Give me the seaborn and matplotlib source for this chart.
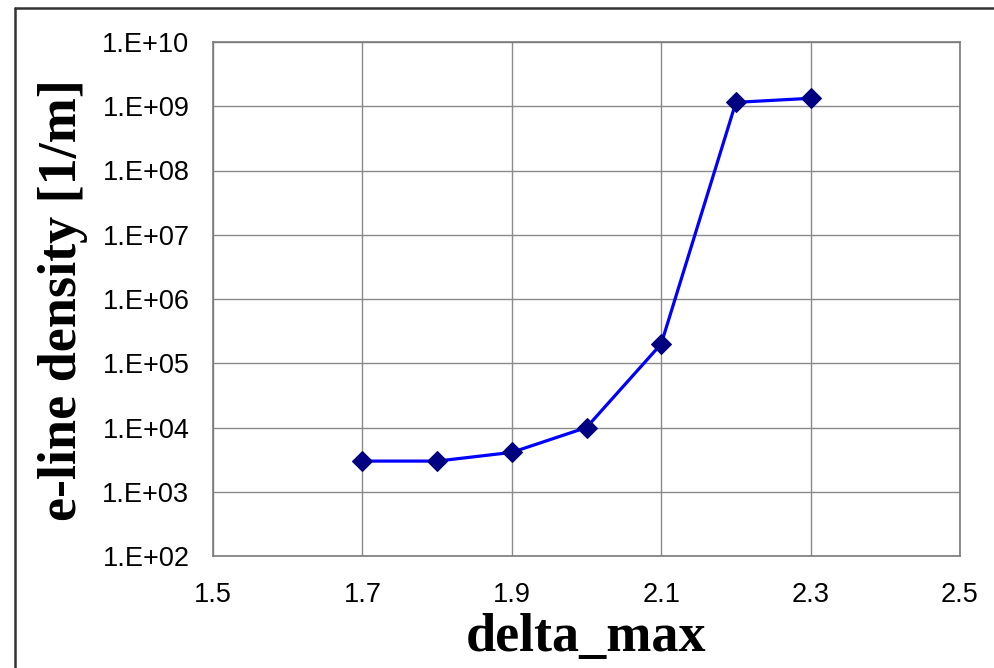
import matplotlib
matplotlib.use("Agg")
import matplotlib.pyplot as plt
import seaborn as sns
import pandas as pd
from matplotlib.lines import Line2D
from matplotlib.ticker import FixedLocator, NullLocator

delta_max = [1.7, 1.8, 1.9, 2.0, 2.1, 2.2, 2.3]
density = [3.0e3, 3.0e3, 4.1e3, 1.0e4, 2.0e5, 1.15e9, 1.33e9]
x_ticks = [1.5, 1.7, 1.9, 2.1, 2.3, 2.5]
y_ticks = [1e2, 1e3, 1e4, 1e5, 1e6, 1e7, 1e8, 1e9, 1e10]
y_tick_labels = ["1.E+02", "1.E+03", "1.E+04", "1.E+05", "1.E+06",
                 "1.E+07", "1.E+08", "1.E+09", "1.E+10"]

df = pd.DataFrame({"delta_max": delta_max, "density": density})

sns.set_style("white")
plt.rcParams["font.family"] = ["Liberation Sans", "DejaVu Sans"]

fig = plt.figure(figsize=(9.94, 6.68), dpi=100)
ax = fig.add_axes([213/994, 1-556/668, (960-213)/994, (556-42)/668])

sns.lineplot(data=df, x="delta_max", y="density", ax=ax, color="#0000FF",
             linewidth=2.3, marker="D", markersize=10,
             markerfacecolor="#000080", markeredgecolor="#000080")

ax.set_yscale("log")
ax.set_xlim(1.5, 2.5)
ax.set_ylim(1e2, 1e10)
ax.xaxis.set_major_locator(FixedLocator(x_ticks))
ax.xaxis.set_minor_locator(NullLocator())
ax.set_xticklabels([f"{v:.1f}" for v in x_ticks])
ax.yaxis.set_major_locator(FixedLocator(y_ticks))
ax.yaxis.set_minor_locator(NullLocator())
ax.set_yticklabels(y_tick_labels)

ax.grid(True, color="#8a8a8a", linewidth=1.0)
for s in ax.spines.values():
    s.set_color("#7a7a7a")
    s.set_linewidth(1.2)
ax.tick_params(axis="both", which="major", direction="out", length=7,
               width=1, color="#7a7a7a", labelsize=19.5, labelcolor="black")
ax.tick_params(axis="x", pad=12)
ax.tick_params(axis="y", pad=10)

ax.set_xlabel("delta_max", fontsize=39, fontweight="bold", color="black",
              family=["Liberation Serif", "DejaVu Serif"])
ax.set_ylabel("e-line density [1/m]", fontsize=39, fontweight="bold", color="black",
              family=["Liberation Serif", "DejaVu Serif"])
ax.xaxis.set_label_coords(0.5, (556-613)/514)
ax.yaxis.set_label_coords((88-213)/747, 0.498)

# figure border (left & top visible)
fig.add_artist(Line2D([15/994, 15/994], [0, 1-8/668], transform=fig.transFigure,
                      color="#333333", linewidth=1.8))
fig.add_artist(Line2D([15/994, 1], [1-8/668, 1-8/668], transform=fig.transFigure,
                      color="#333333", linewidth=1.8))

fig.savefig("out.png", dpi=100)
